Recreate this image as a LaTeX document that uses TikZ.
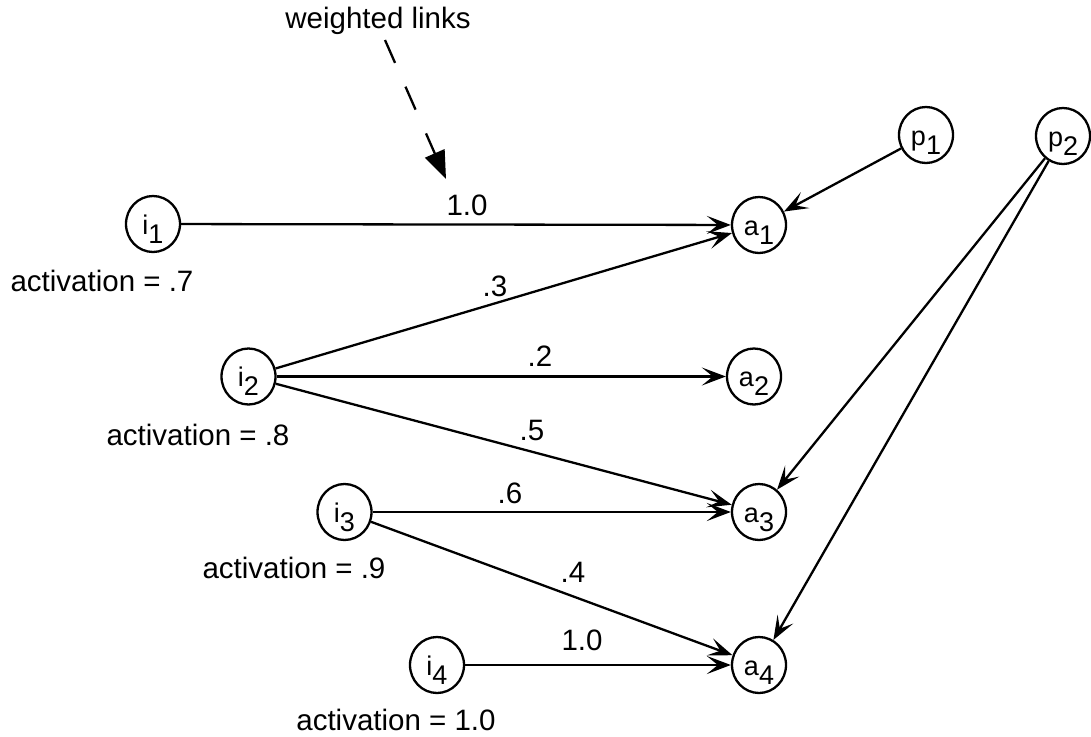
\documentclass[tikz,border=0pt]{standalone}
\usepackage{fontspec}
\setmainfont{Liberation Sans}
\usetikzlibrary{arrows.meta,shapes.geometric}
\newcommand{\nsub}[2]{#1\raisebox{-9pt}{#2}}
\begin{document}
\begin{tikzpicture}[x=1pt,y=-1pt,
  unit/.style={draw, line width=2.3pt, ellipse, minimum width=54pt, minimum height=56pt, inner sep=0pt,
    text height=26pt, text depth=6pt, font=\fontsize{27}{27}\selectfont},
  link/.style={line width=2.3pt, -{Stealth[length=24pt,width=18pt,inset=11pt]}},
  wlab/.style={font=\fontsize{29.5}{29.5}\selectfont, anchor=base, inner sep=0pt},
]
\useasboundingbox (0,0) rectangle (1091,736);
% units
\node[unit] (i1) at (153,224) {\nsub{i}{1}};
\node[unit] (i2) at (248.5,376.5) {\nsub{i}{2}};
\node[unit] (i3) at (344.5,512) {\nsub{i}{3}};
\node[unit] (i4) at (437,665) {\nsub{i}{4}};
\node[unit] (a1) at (759,225) {\nsub{a}{1}};
\node[unit] (a2) at (754,376.5) {\nsub{a}{2}};
\node[unit] (a3) at (759,512) {\nsub{a}{3}};
\node[unit] (a4) at (759,665) {\nsub{a}{4}};
\node[unit] (p1) at (926,135) {\nsub{p}{1}};
\node[unit] (p2) at (1063,136) {\nsub{p}{2}};
% activation labels
\node[wlab] (act1) at (102,291) {activation = .7};
\node[wlab] (act2) at (198,445) {activation = .8};
\node[wlab] (act3) at (294,578) {activation = .9};
\node[wlab] (act4) at (396,730) {activation = 1.0};
% links
\draw[link] (i1) -- (a1);
\draw[link] (i2) -- (a1);
\draw[link] (i2) -- (a2);
\draw[link] (i2) -- (a3);
\draw[link] (i3) -- (a3);
\draw[link] (i3) -- (a4);
\draw[link] (i4) -- (a4);
\draw[link] (p1) -- (a1);
\draw[link] (p2) -- (a3);
\draw[link] (p2) -- (a4);
% weights
\node[wlab] (w11) at (467,215) {1.0};
\node[wlab] (w21) at (495,296) {.3};
\node[wlab] (w22) at (540,366) {.2};
\node[wlab] (w23) at (532,440) {.5};
\node[wlab] (w33) at (510,503) {.6};
\node[wlab] (w34) at (573,582) {.4};
\node[wlab] (w44) at (582,650) {1.0};
% annotation
\node[wlab] (wl) at (378,28) {weighted links};
\coordinate (ds) at (385,40);
\coordinate (de) at (446,179);
\draw[line width=2.3pt, dash pattern=on 25pt off 26pt, -{Triangle[length=28pt,width=21pt]}] (ds) -- (de);
\end{tikzpicture}
\end{document}
